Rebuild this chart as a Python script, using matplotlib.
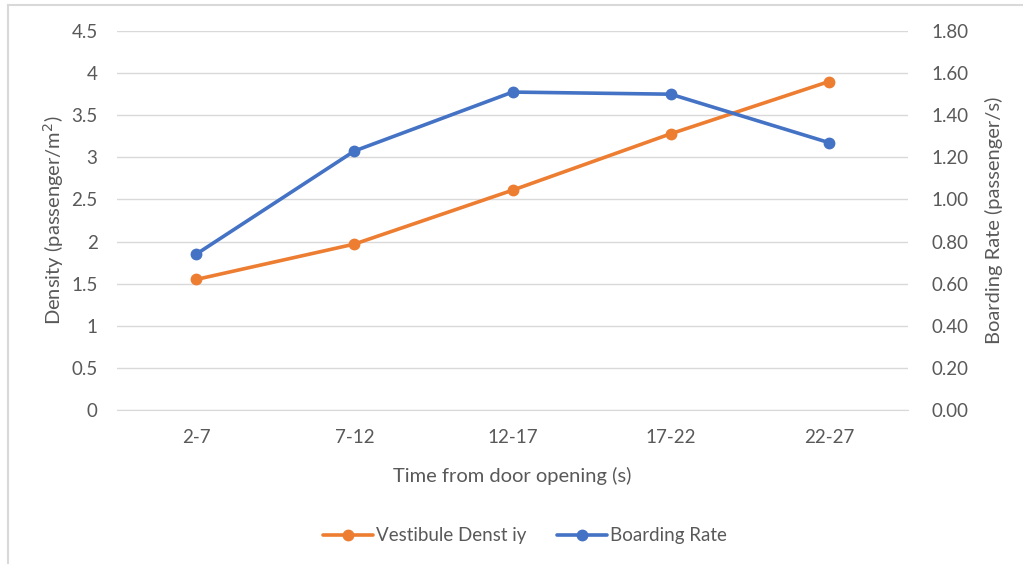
import matplotlib
matplotlib.use("Agg")
import matplotlib.pyplot as plt
from matplotlib.lines import Line2D

plt.rcParams['font.family'] = ['Lato', 'DejaVu Sans']

categories = ["2-7", "7-12", "12-17", "17-22", "22-27"]
density = [1.55, 1.97, 2.61, 3.28, 3.90]
boarding_rate = [0.74, 1.23, 1.51, 1.50, 1.27]

density_ticks = [0, 0.5, 1, 1.5, 2, 2.5, 3, 3.5, 4, 4.5]
density_tick_labels = ["0", "0.5", "1", "1.5", "2", "2.5", "3", "3.5", "4", "4.5"]
rate_ticks = [0.0, 0.2, 0.4, 0.6, 0.8, 1.0, 1.2, 1.4, 1.6, 1.8]

ORANGE = "#ED7D31"
BLUE = "#4472C4"
TEXT = "#595959"
GRID = "#D9D9D9"

fig = plt.figure(figsize=(10.23, 5.64), dpi=100)
# chart frame: left and top edges
fig.lines.append(Line2D([0.0075, 0.0075], [0.0, 0.991], transform=fig.transFigure,
                        color=GRID, linewidth=1.5))
fig.lines.append(Line2D([0.0075, 1.0], [0.991, 0.991], transform=fig.transFigure,
                        color=GRID, linewidth=1.5))

ax = fig.add_axes([0.1144, 0.273, 0.7732, 0.672])
ax2 = ax.twinx()

x = list(range(len(categories)))
l1, = ax.plot(x, density, color=ORANGE, linewidth=2.6, marker='o', markersize=7.5,
              label="Vestibule Denst iy", solid_capstyle='round', zorder=3)
l2, = ax2.plot(x, boarding_rate, color=BLUE, linewidth=2.6, marker='o', markersize=7.5,
               label="Boarding Rate", solid_capstyle='round', zorder=3)

ax.set_xlim(-0.5, len(categories) - 0.5)
ax.set_ylim(0, 4.5)
ax2.set_ylim(0, 1.8)

ax.set_yticks(density_ticks)
ax.set_yticklabels(density_tick_labels)
ax2.set_yticks(rate_ticks)
ax2.set_yticklabels([f"{v:.2f}" for v in rate_ticks])
ax.set_xticks(x)
ax.set_xticklabels(categories)

ax.yaxis.grid(True, color=GRID, linewidth=1.0)
ax.set_axisbelow(True)

for a in (ax, ax2):
    for s in ("top", "left", "right", "bottom"):
        a.spines[s].set_visible(False)
    a.tick_params(axis='both', colors=TEXT, labelsize=13.5, length=0)
ax.spines["bottom"].set_visible(True)
ax.spines["bottom"].set_color(GRID)
ax.tick_params(axis='x', pad=14)
ax.tick_params(axis='y', pad=14)
ax2.tick_params(axis='y', pad=17)

ax.set_xlabel("Time from door opening (s)", color=TEXT, fontsize=14.5, labelpad=15)
ax.set_ylabel("Density (passenger/m$^2$)", color=TEXT, fontsize=14.5, labelpad=4)
ax2.set_ylabel("Boarding Rate (passenger/s)", color=TEXT, fontsize=14.5, labelpad=12)

fig.legend(handles=[l1, l2], loc='center', bbox_to_anchor=(0.513, 0.05), ncol=2,
           frameon=False, fontsize=13.5, labelcolor=TEXT, handlelength=2.7,
           handletextpad=0.15, columnspacing=1.6)

fig.savefig("out.png", dpi=100)
